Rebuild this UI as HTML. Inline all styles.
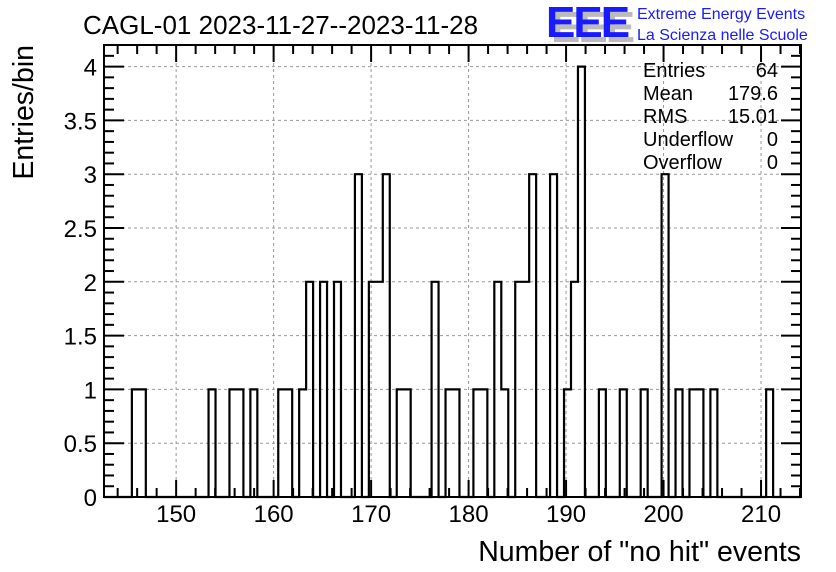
<!DOCTYPE html>
<html><head><meta charset="utf-8"><style>
body{margin:0;background:#fff;}
svg{display:block;font-family:"Liberation Sans",Arial,sans-serif;}
</style></head><body>
<svg id="chart" width="836" height="572" viewBox="0 0 836 572" xmlns="http://www.w3.org/2000/svg">
<rect width="836" height="572" fill="#fff"/>
<text x="83" y="34" font-size="26" fill="#000">CAGL-01 2023-11-27--2023-11-28</text>
<g>
<text x="551" y="42" font-size="44" font-weight="bold" fill="#bbb" letter-spacing="-2">EEE</text>
<text x="546" y="37" font-size="44" font-weight="bold" fill="#1a1aff" letter-spacing="-2">EEE</text>
<text x="637" y="19" font-size="16" fill="#1a1aff">Extreme Energy Events</text>
<text x="637" y="40" font-size="16" fill="#1a1aff">La Scienza nelle Scuole</text>
</g>
<g id="grid"></g>
<g id="axes"></g>
<path id="hist" fill="none" stroke="#000" stroke-width="2.2"/>
<rect x="104" y="45" width="697" height="452" fill="none" stroke="#000" stroke-width="2"/>
<g font-size="20" fill="#000">
<text x="643" y="77">Entries</text><text x="778" y="77" text-anchor="end">64</text>
<text x="643" y="100">Mean</text><text x="778" y="100" text-anchor="end">179.6</text>
<text x="643" y="123">RMS</text><text x="778" y="123" text-anchor="end">15.01</text>
<text x="643" y="146">Underflow</text><text x="778" y="146" text-anchor="end">0</text>
<text x="643" y="169">Overflow</text><text x="778" y="169" text-anchor="end">0</text>
</g>
<text x="801" y="561" font-size="28.5" text-anchor="end">Number of "no hit" events</text>
<text transform="translate(33,45) rotate(-90)" font-size="28.5" text-anchor="end">Entries/bin</text>
</svg>
<script>
const binLow = 142.6;
const binWidth = 0.715;
const binIndices = [4,5,15,18,19,21,25,26,28,29,31,33,36,38,39,40,42,43,47,49,50,53,54,56,57,59,60,61,64,66,67,68,71,74,77,80,82,84,85,87,95];
const binCounts  = [1,1,1,1,1,1,1,1,1,2,2,2,3,2,2,3,1,1,2,1,1,1,1,2,1,2,2,3,3,1,2,4,1,1,1,3,1,1,1,1,1];
const xTicks = [150,160,170,180,190,200,210];
const yTicks = [0,0.5,1,1.5,2,2.5,3,3.5,4];
const yTickLabels = ["0","0.5","1","1.5","2","2.5","3","3.5","4"];
const nBins = 100;

const L=104,R=801,T=45,B=497;
const xMin=binLow, xMax=binLow+nBins*binWidth;
function xs(v){return L+(v-xMin)/(xMax-xMin)*(R-L);}
function ys(v){return B-v*107.6;}
const NS="http://www.w3.org/2000/svg";
function mk(tag,attrs,parent){const e=document.createElementNS(NS,tag);for(const k in attrs)e.setAttribute(k,attrs[k]);parent.appendChild(e);return e;}
const grid=document.getElementById('grid'),axes=document.getElementById('axes');

xTicks.forEach(v=>{
  const x=xs(v);
  const g=mk('line',{x1:x,x2:x,y1:T,y2:B,stroke:'#999','stroke-dasharray':'3,3','stroke-width':1},grid);
  
  
  const t=mk('text',{x:x,y:522,'font-size':24,'text-anchor':'middle'},axes);
  
  
  t.textContent=String(v);
});
for(let v=144;v<=214;v+=2){
  const x=xs(v);const major=v%10===0;const len=major?17:9;
  mk('line',{x1:x,x2:x,y1:B,y2:B-len,stroke:'#000','stroke-width':2},axes);
  mk('line',{x1:x,x2:x,y1:T,y2:T+len,stroke:'#000','stroke-width':2},axes);
}
yTicks.forEach((v,i)=>{
  const y=ys(v);
  if(v>0){
    const g=mk('line',{x1:L,x2:R,y1:y,y2:y,stroke:'#999','stroke-dasharray':'3,3','stroke-width':1},grid);
    
    
  }
  const t=mk('text',{x:97,y:y+9,'font-size':24,'text-anchor':'end'},axes);
  
  
  t.textContent=yTickLabels[i];
});
for(let k=0;k<=41;k++){
  const v=k*0.1;const y=ys(v);if(y<T)break;
  const len=(k%5===0)?20:10;
  mk('line',{x1:L,x2:L+len,y1:y,y2:y,stroke:'#000','stroke-width':2},axes);
  mk('line',{x1:R,x2:R-len,y1:y,y2:y,stroke:'#000','stroke-width':2},axes);
}
const counts=new Array(nBins).fill(0);
binIndices.forEach((b,i)=>{counts[b]=binCounts[i];});
let d='M'+xs(xMin)+','+ys(0);
for(let i=0;i<nBins;i++){
  const x0=xs(binLow+i*binWidth),x1=xs(binLow+(i+1)*binWidth),y=ys(counts[i]);
  d+=' L'+x0+','+y+' L'+x1+','+y;
}
d+=' L'+xs(xMax)+','+ys(0);
document.getElementById('hist').setAttribute('d',d);
</script>
</body></html>
